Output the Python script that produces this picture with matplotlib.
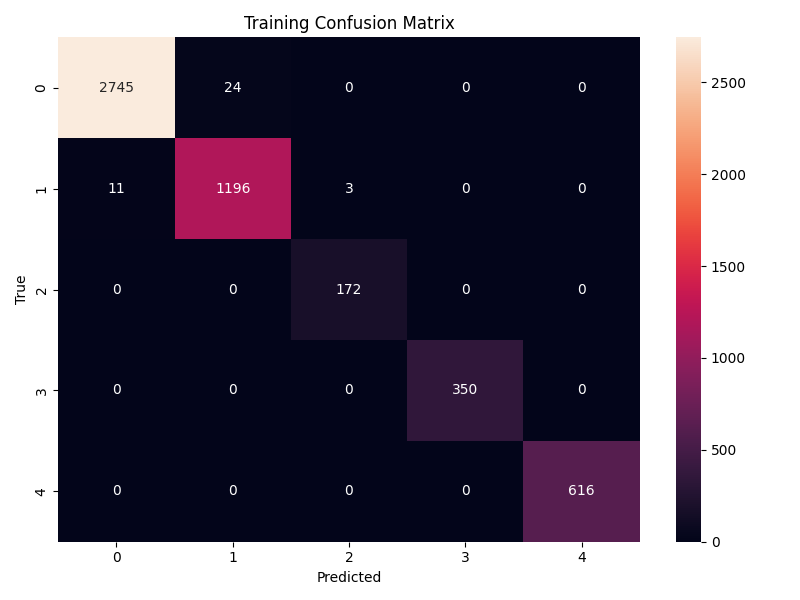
import matplotlib
matplotlib.use('Agg')
import matplotlib.pyplot as plt
import seaborn as sns
import numpy as np

labels = ['0', '1', '2', '3', '4']
row0 = [2745, 24, 0, 0, 0]
row1 = [11, 1196, 3, 0, 0]
row2 = [0, 0, 172, 0, 0]
row3 = [0, 0, 0, 350, 0]
row4 = [0, 0, 0, 0, 616]
cm = np.array([row0, row1, row2, row3, row4])

fig, ax = plt.subplots(figsize=(8, 6), dpi=100)
sns.heatmap(cm, annot=True, fmt='d', cmap='rocket', ax=ax,
            xticklabels=labels, yticklabels=labels)
ax.set_yticklabels(labels, rotation=90, va='center')
ax.set_title('Training Confusion Matrix')
ax.set_xlabel('Predicted')
ax.set_ylabel('True')
plt.tight_layout()
plt.savefig('out.png')
